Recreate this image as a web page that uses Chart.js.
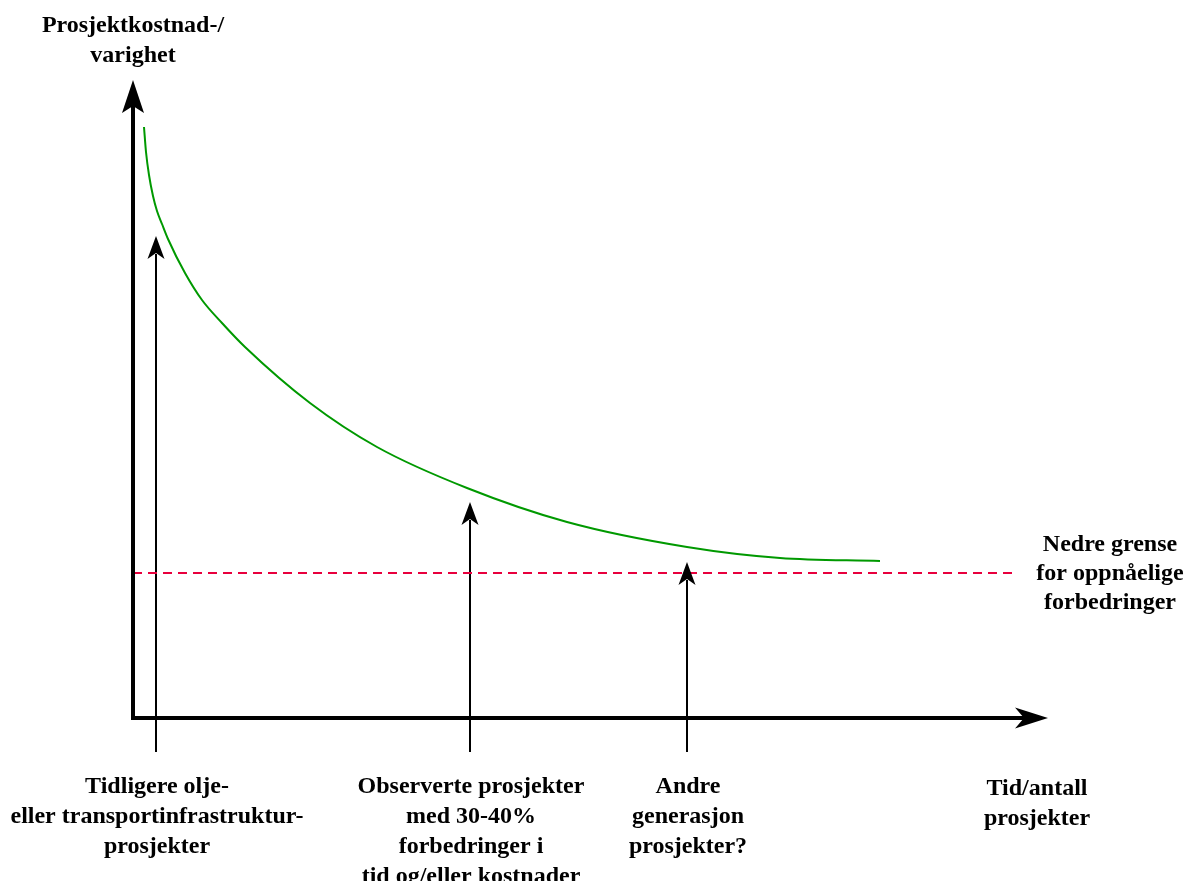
<!DOCTYPE html>
<html>
<head>
<meta charset="utf-8">
<script src="https://cdn.jsdelivr.net/npm/chart.js@4.4.1/dist/chart.umd.min.js"></script>
<style>
  html, body { margin: 0; padding: 0; background: #ffffff; }
  #wrap { width: 1188px; height: 881px; position: relative; }
</style>
</head>
<body>
<div id="wrap"><canvas id="c"></canvas></div>
<script>
// ---- data (abstract units: x = time/number of projects, y = cost/duration) ----
const curveX = [11, 13, 16, 20, 24, 29, 35, 52, 69, 89, 112, 177, 244, 334, 434, 554, 647, 747];
const curveY = [591, 566, 543, 522, 507, 494, 479, 445, 418, 395, 371, 315, 271, 230, 196, 171, 160, 157];
const floorX = [0, 884];
const floorY = 145;
const arrowX = [23, 337, 554];
const arrowTipY = [482, 216, 156];
const arrowBaseY = -34;
const xMax = 915;
const yMax = 638;

const yAxisTitle = ['Prosjektkostnad-/', 'varighet'];
const xAxisTitle = ['Tid/antall', 'prosjekter'];
const floorLabel = ['Nedre grense', 'for oppnåelige', 'forbedringer'];
const arrowLabels = [
  ['Tidligere olje-', 'eller transportinfrastruktur-', 'prosjekter'],
  ['Observerte prosjekter', 'med 30-40%', 'forbedringer i', 'tid og/eller kostnader'],
  ['Andre', 'generasjon', 'prosjekter?']
];

const curvePts = curveX.map((x, i) => ({ x: x, y: curveY[i] }));
const floorPts = floorX.map(x => ({ x: x, y: floorY }));

const datasets = [
  {
    data: curvePts, borderColor: '#009900', borderWidth: 2,
    pointRadius: 0, cubicInterpolationMode: 'monotone', fill: false
  },
  {
    data: floorPts, borderColor: '#e8003d', borderWidth: 2,
    borderDash: [9, 6], pointRadius: 0, fill: false
  }
];
arrowX.forEach((x, i) => {
  datasets.push({
    data: [{ x: x, y: arrowBaseY }, { x: x, y: arrowTipY[i] - 18 }],
    borderColor: '#000000', borderWidth: 2, pointRadius: 0, fill: false, clip: false
  });
});

function arrowHead(ctx, tx, ty, dx, dy, len, half, notch) {
  const bx = tx - dx * len, by = ty - dy * len;
  const nx = -dy, ny = dx;
  const mx = tx - dx * (len - notch), my = ty - dy * (len - notch);
  ctx.beginPath();
  ctx.moveTo(tx, ty);
  ctx.lineTo(bx + nx * half, by + ny * half);
  ctx.lineTo(mx, my);
  ctx.lineTo(bx - nx * half, by - ny * half);
  ctx.closePath();
  ctx.fill();
}

const FONT = 'bold 24px "Liberation Serif", "Times New Roman", serif';

function drawLines(ctx, lines, cx, firstBaseline, step) {
  lines.forEach((t, i) => ctx.fillText(t, cx, firstBaseline + i * step));
}

const decor = {
  id: 'decor',
  afterDatasetsDraw(chart) {
    const ctx = chart.ctx;
    const xs = chart.scales.x, ys = chart.scales.y;
    const ox = xs.getPixelForValue(0), oy = ys.getPixelForValue(0);
    const topY = ys.getPixelForValue(yMax), rightX = xs.getPixelForValue(xMax);
    ctx.save();
    ctx.strokeStyle = '#000'; ctx.fillStyle = '#000';
    ctx.lineWidth = 4; ctx.lineJoin = 'miter'; ctx.lineCap = 'butt';
    ctx.beginPath();
    ctx.moveTo(ox, topY + 26);
    ctx.lineTo(ox, oy);
    ctx.lineTo(rightX - 24, oy);
    ctx.stroke();
    arrowHead(ctx, ox, topY, 0, -1, 33, 11, 7);
    arrowHead(ctx, rightX, oy, 1, 0, 33, 10.5, 9);
    arrowX.forEach((x, i) => {
      arrowHead(ctx, xs.getPixelForValue(x), ys.getPixelForValue(arrowTipY[i]), 0, -1, 23, 8.5, 6);
    });
    ctx.font = FONT; ctx.textAlign = 'center'; ctx.textBaseline = 'alphabetic';
    drawLines(ctx, yAxisTitle, ox, 32, 30);
    drawLines(ctx, xAxisTitle, 1037, 795, 30);
    drawLines(ctx, floorLabel, 1110, 551, 29);
    arrowLabels.forEach((lines, i) => {
      const cx = xs.getPixelForValue(arrowX[i]) + 1;
      drawLines(ctx, lines, cx, 793, 30);
    });
    ctx.restore();
  }
};

new Chart(document.getElementById('c'), {
  type: 'line',
  data: { datasets: datasets },
  options: {
    responsive: true, maintainAspectRatio: false, animation: false,
    layout: { padding: { left: 133, right: 140, top: 80, bottom: 163 } },
    plugins: { legend: { display: false }, tooltip: { enabled: false } },
    elements: { line: { tension: 0 } },
    scales: {
      x: { type: 'linear', min: 0, max: xMax, display: false },
      y: { type: 'linear', min: 0, max: yMax, display: false }
    }
  },
  plugins: [decor]
});
</script>
</body>
</html>
